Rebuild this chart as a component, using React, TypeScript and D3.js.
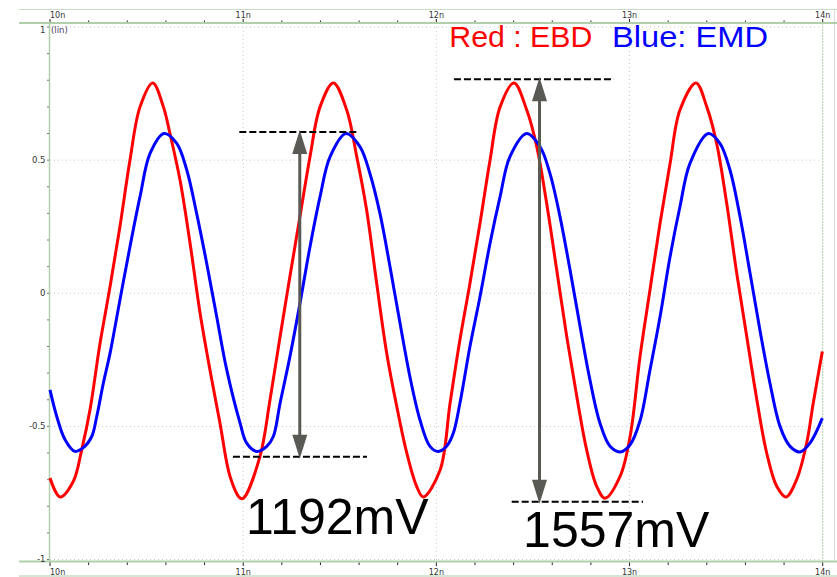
import React from 'react';
import * as d3 from 'd3';

// ---- data (time in ns, value in V) ----
const redT = [10.000, 10.052, 10.121, 10.164, 10.207, 10.259, 10.311, 10.362, 10.414, 10.466, 10.532, 10.587, 10.621, 10.673, 10.725, 10.777, 10.828, 10.880, 10.932, 10.984, 11.001, 11.087, 11.139, 11.191, 11.242, 11.294, 11.346, 11.398, 11.467, 11.536, 11.588, 11.639, 11.691, 11.743, 11.795, 11.847, 11.898, 11.932, 12.019, 12.071, 12.122, 12.174, 12.226, 12.278, 12.330, 12.402, 12.468, 12.520, 12.571, 12.623, 12.675, 12.727, 12.778, 12.830, 12.873, 12.951, 13.003, 13.054, 13.106, 13.158, 13.210, 13.261, 13.344, 13.400, 13.451, 13.503, 13.555, 13.607, 13.659, 13.710, 13.762, 13.810, 13.865, 13.917, 13.951, 13.998];
const redV = [-0.694, -0.765, -0.706, -0.588, -0.438, -0.188, 0.025, 0.250, 0.500, 0.700, 0.790, 0.700, 0.600, 0.425, 0.188, -0.075, -0.288, -0.488, -0.688, -0.769, -0.770, -0.613, -0.400, -0.163, 0.063, 0.288, 0.513, 0.700, 0.790, 0.688, 0.513, 0.313, 0.038, -0.225, -0.425, -0.600, -0.725, -0.765, -0.665, -0.413, -0.175, 0.038, 0.263, 0.500, 0.700, 0.790, 0.688, 0.550, 0.338, 0.088, -0.163, -0.388, -0.588, -0.725, -0.770, -0.688, -0.538, -0.240, 0.013, 0.263, 0.488, 0.688, 0.790, 0.700, 0.563, 0.338, 0.075, -0.163, -0.400, -0.600, -0.725, -0.765, -0.700, -0.563, -0.413, -0.219];

const blueT = [10.000, 10.035, 10.078, 10.129, 10.172, 10.216, 10.242, 10.276, 10.311, 10.362, 10.414, 10.466, 10.518, 10.590, 10.656, 10.708, 10.759, 10.811, 10.863, 10.915, 10.984, 11.018, 11.070, 11.122, 11.156, 11.191, 11.242, 11.294, 11.346, 11.398, 11.450, 11.532, 11.605, 11.656, 11.708, 11.760, 11.812, 11.863, 11.915, 11.967, 12.010, 12.053, 12.088, 12.122, 12.174, 12.226, 12.278, 12.330, 12.381, 12.468, 12.537, 12.588, 12.640, 12.692, 12.744, 12.795, 12.847, 12.899, 12.951, 13.003, 13.054, 13.106, 13.158, 13.210, 13.261, 13.313, 13.408, 13.468, 13.520, 13.572, 13.624, 13.675, 13.727, 13.779, 13.831, 13.883, 13.934, 13.998];
const blueV = [-0.363, -0.463, -0.550, -0.594, -0.580, -0.538, -0.463, -0.338, -0.225, -0.025, 0.175, 0.363, 0.525, 0.600, 0.563, 0.463, 0.300, 0.113, -0.088, -0.288, -0.488, -0.563, -0.594, -0.575, -0.538, -0.413, -0.238, -0.038, 0.175, 0.363, 0.513, 0.600, 0.550, 0.450, 0.300, 0.100, -0.113, -0.313, -0.475, -0.575, -0.594, -0.575, -0.525, -0.413, -0.200, -0.013, 0.188, 0.363, 0.513, 0.600, 0.550, 0.450, 0.288, 0.088, -0.125, -0.325, -0.488, -0.575, -0.596, -0.569, -0.480, -0.288, -0.088, 0.138, 0.325, 0.488, 0.600, 0.563, 0.463, 0.288, 0.075, -0.138, -0.338, -0.500, -0.575, -0.596, -0.563, -0.469];

const xTicks = [10, 11, 12, 13, 14];
const xTickLabels = ['10n', '11n', '12n', '13n', '14n'];
const yTicks = [1, 0.5, 0, -0.5, -1];
const yTickLabels = ['1', '0.5', '0', '-0.5', '-1'];
const legendLabels = ['Red : EBD', 'Blue: EMD'];

// measurement annotations (ns / V)
const measLabels = ['1192mV', '1557mV'];
const measArrowT = [11.293, 12.534];
const measTopV = [0.606, 0.804];
const measBotV = [-0.614, -0.783];
const measTopT0 = [10.980, 12.091];
const measTopT1 = [11.601, 12.920];
const measBotT0 = [10.947, 12.390];
const measBotT1 = [11.641, 13.070];
const measLabelT = [11.015, 12.449];
const measLabelV = [-0.905, -0.953];

const W = 837;
const H = 577;

export default function App() {
  const x = d3.scaleLinear().domain([10, 14]).range([50, 822.7]);
  const y = d3.scaleLinear().domain([-1, 1]).range([559.5, 27]);

  const line = d3
    .line<[number, number]>()
    .x((d) => x(d[0]))
    .y((d) => y(d[1]))
    .curve(d3.curveCatmullRom.alpha(0.5));

  const redPts: [number, number][] = redT.map((t, i) => [t, redV[i]]);
  const bluePts: [number, number][] = blueT.map((t, i) => [t, blueV[i]]);

  const minorX = d3.range(10, 14.0001, 0.2);
  const minorY = d3.range(-1, 1.0001, 0.1);

  const axisGreen = '#b2cfac';
  const frameGreen = '#c9dcc5';
  const gridColor = '#c8c8c8';
  const tickFont = 'DejaVu Sans, sans-serif';
  const arrowCol = '#5a5a55';

  const arrow = (xc: number, y0: number, y1: number, key: string) => {
    // y0 top tip, y1 bottom tip
    const hl = 24;
    const hw = 7.5;
    return (
      <g key={key}>
        <line x1={xc} x2={xc} y1={y0 + hl - 2} y2={y1 - hl + 2} stroke={arrowCol} strokeWidth={3} />
        <path d={`M${xc},${y0} L${xc - hw},${y0 + hl} L${xc + hw},${y0 + hl} Z`} fill={arrowCol} />
        <path d={`M${xc},${y1} L${xc - hw},${y1 - hl} L${xc + hw},${y1 - hl} Z`} fill={arrowCol} />
      </g>
    );
  };

  return (
    <svg
      width={W}
      height={H}
      style={{ position: 'absolute', left: 0, top: 0, background: '#ffffff' }}
    >
      <rect x={0} y={0} width={W} height={H} fill="#ffffff" />

      {/* grid */}
      {xTicks.slice(1, -1).map((t) => (
        <line key={'gx' + t} x1={x(t)} x2={x(t)} y1={23} y2={561} stroke={gridColor} strokeWidth={1} strokeDasharray="1 3" />
      ))}
      {yTicks.map((v) => (
        <line key={'gy' + v} x1={50} x2={822} y1={y(v)} y2={y(v)} stroke={gridColor} strokeWidth={1} strokeDasharray="1 3" />
      ))}
      <line x1={x(14)} x2={x(14)} y1={23} y2={561} stroke={axisGreen} strokeWidth={1} strokeDasharray="2 1" />
      <line x1={834.5} x2={834.5} y1={9} y2={561} stroke="#d8dcd8" strokeWidth={1} />

      {/* frame and axes */}
      <line x1={19} x2={W} y1={9.5} y2={9.5} stroke={frameGreen} strokeWidth={1.2} />
      <line x1={19} x2={W} y1={23} y2={23} stroke={axisGreen} strokeWidth={2} />
      <line x1={19} x2={W} y1={561.5} y2={561.5} stroke={axisGreen} strokeWidth={2} />
      <line x1={19} x2={W} y1={576} y2={576} stroke={frameGreen} strokeWidth={1.5} />
      <line x1={49.5} x2={49.5} y1={23} y2={561} stroke={axisGreen} strokeWidth={1.5} />

      {/* x ticks */}
      {minorX.map((t, i) => {
        const major = i % 5 === 0;
        return (
          <g key={'tx' + i}>
            <line x1={x(t)} x2={x(t)} y1={major ? 19 : 20.5} y2={22} stroke="#222" strokeWidth={1} />
            <line x1={x(t)} x2={x(t)} y1={562.5} y2={major ? 566 : 565} stroke="#222" strokeWidth={1} />
          </g>
        );
      })}
      {xTicks.map((t, i) => (
        <g key={'xl' + t} fontFamily={tickFont} fontSize={8} fill="#333">
          <text x={i === 0 ? x(t) : x(t)} y={17.5} textAnchor={i === 0 ? 'start' : 'middle'}>
            {xTickLabels[i]}
          </text>
          <text x={x(t)} y={574.5} textAnchor={i === 0 ? 'start' : 'middle'}>
            {xTickLabels[i]}
          </text>
        </g>
      ))}

      {/* y ticks */}
      {minorY.map((v, i) => (
        <line key={'ty' + i} x1={47} x2={49} y1={y(v)} y2={y(v)} stroke="#777" strokeWidth={1} />
      ))}
      {yTicks.map((v, i) => (
        <text
          key={'yl' + v}
          x={45.5}
          y={y(v) + (i === 0 ? 3 : 0)}
          dy="0.35em"
          textAnchor="end"
          fontFamily={tickFont}
          fontSize={8.5}
          fill="#333"
        >
          {yTickLabels[i]}
        </text>
      ))}
      <text x={51} y={y(1) + 3} dy="0.35em" fontFamily={tickFont} fontSize={8.5} fill="#4a3a5a">
        (lin)
      </text>

      {/* waveforms */}
      <path d={line(redPts) || ''} fill="none" stroke="#ff0000" strokeWidth={3} strokeLinejoin="round" />
      <path d={line(bluePts) || ''} fill="none" stroke="#0000ff" strokeWidth={3} strokeLinejoin="round" />

      {/* measurement annotations */}
      {measLabels.map((lab, i) => (
        <g key={'m' + i}>
          <line x1={x(measTopT0[i])} x2={x(measTopT1[i])} y1={y(measTopV[i])} y2={y(measTopV[i])} stroke="#000" strokeWidth={2} strokeDasharray="7 3" />
          <line x1={x(measBotT0[i])} x2={x(measBotT1[i])} y1={y(measBotV[i])} y2={y(measBotV[i])} stroke="#000" strokeWidth={2} strokeDasharray="7 3" />
          {arrow(x(measArrowT[i]), y(measTopV[i]) - 2, y(measBotV[i]) + 2, 'a' + i)}
          <text x={x(measLabelT[i])} y={y(measLabelV[i])} fontFamily="Liberation Sans, Arial, sans-serif" fontSize={50} fill="#000">
            {lab}
          </text>
        </g>
      ))}

      {/* legend */}
      <text x={449.3} y={46.7} fontFamily="Liberation Sans, Arial, sans-serif" fontSize={29} fill="#ff0000" textLength={143} lengthAdjust="spacingAndGlyphs">
        {legendLabels[0]}
      </text>
      <text x={612} y={46.7} fontFamily="Liberation Sans, Arial, sans-serif" fontSize={29} fill="#0000ff" textLength={156} lengthAdjust="spacingAndGlyphs">
        {legendLabels[1]}
      </text>
    </svg>
  );
}
